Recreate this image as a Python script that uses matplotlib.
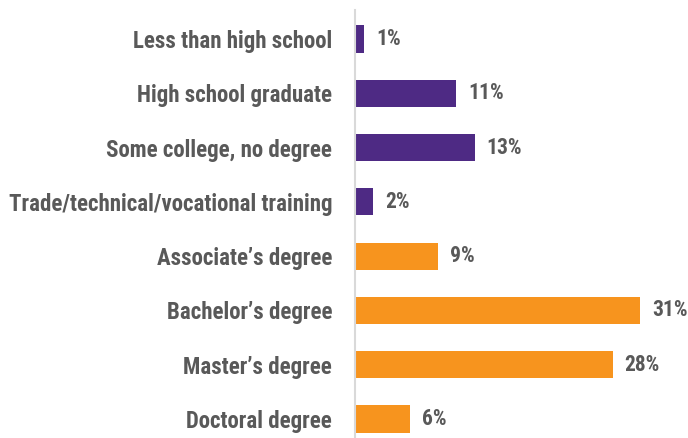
import matplotlib.pyplot as plt

categories = ['Less than high school', 'High school graduate', 'Some college, no degree',
              'Trade/technical/vocational training', "Associate\u2019s degree",
              "Bachelor\u2019s degree", "Master\u2019s degree", 'Doctoral degree']
values = [1, 11, 13, 2, 9, 31, 28, 6]
colors = ['#4E2A84'] * 4 + ['#F7941E'] * 4

plt.rcParams['font.family'] = ['Roboto Condensed', 'DejaVu Sans']

fig = plt.figure(figsize=(6.88, 4.38), dpi=100)
ax = fig.add_axes([355 / 688, 0, 333 / 688, 428 / 438])

ypos = list(range(len(categories)))
ax.barh(ypos, values, height=0.5, color=colors)

for y, v in zip(ypos, values):
    ax.text(v + 1.3, y, f'{v}%', va='center', ha='left', fontsize=15.5,
            fontweight='bold', color='#595959')

ax.set_yticks(ypos)
ax.set_yticklabels(categories, fontsize=16.5, fontweight='bold', color='#595959')
ax.tick_params(axis='y', length=0, pad=16.5)
ax.set_xticks([])
ax.set_xlim(0, 36.2)
ax.set_ylim(7.35, -0.534)

for s in ['top', 'right', 'bottom']:
    ax.spines[s].set_visible(False)
ax.spines['left'].set_color('#D9D9D9')
ax.spines['left'].set_linewidth(1.5)

fig.savefig('out.png', dpi=100)
